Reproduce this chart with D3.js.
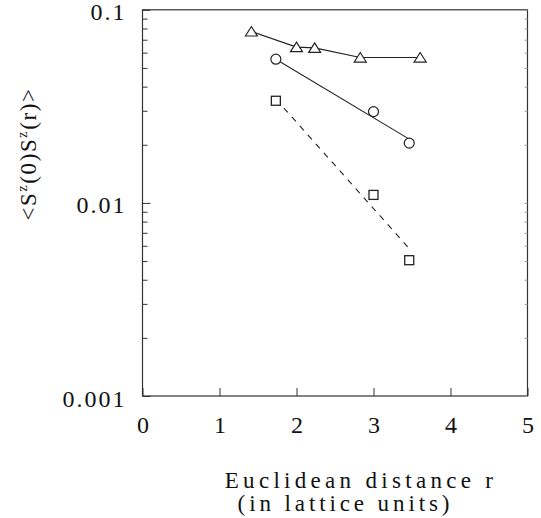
<!DOCTYPE html>
<html>
<head>
<meta charset="utf-8">
<script src="https://cdn.jsdelivr.net/npm/d3@7"></script>
<style>
  body { margin: 0; background: #fff; }
</style>
</head>
<body>
<script>
// triangles (connected), circles and squares (with fitted lines)
const rTri = [1.414, 2.0, 2.236, 2.828, 3.606];
const valTri = [0.0772, 0.0641, 0.0635, 0.0566, 0.0566];

const rCirc = [1.732, 3.0, 3.464];
const valCirc = [0.0555, 0.0297, 0.0204];
const fitCircR = [1.732, 3.464];
const fitCircVal = [0.0555, 0.0214];

const rSq = [1.732, 3.0, 3.464];
const valSq = [0.0338, 0.011, 0.00505];
const fitSqR = [1.732, 3.464];
const fitSqVal = [0.0345, 0.0058];

const xTicks = [0, 1, 2, 3, 4, 5];
const yMajor = [0.1, 0.01, 0.001];
const yMajorLabels = ["0.1", "0.01", "0.001"];

const FONT = "Liberation Serif";

const width = 541;
const height = 518;
const plot = { left: 142.5, right: 527.5, top: 9.8, bottom: 396 };

const svg = d3
  .select("body")
  .append("svg")
  .attr("width", width)
  .attr("height", height);

const x = d3.scaleLinear().domain([0, 5]).range([plot.left, plot.right]);
const y = d3.scaleLog().domain([0.001, 0.1]).range([plot.bottom, plot.top]);

// minor log ticks 2..9 in each decade
const yMinor = [];
[0.001, 0.01].forEach((d) => {
  for (let k = 2; k <= 9; k++) yMinor.push(d * k);
});

// frame
svg
  .append("rect")
  .attr("x", plot.left)
  .attr("y", plot.top)
  .attr("width", plot.right - plot.left)
  .attr("height", plot.bottom - plot.top)
  .attr("fill", "none")
  .attr("stroke", "#333")
  .attr("stroke-width", 1.2);

// bottom axis, ticks pointing inward
const xAxis = svg
  .append("g")
  .attr("transform", `translate(0,${plot.bottom})`)
  .call(
    d3
      .axisBottom(x)
      .tickValues(xTicks)
      .tickFormat(d3.format("d"))
      .tickSizeInner(-8)
      .tickSizeOuter(0)
      .tickPadding(20)
  );
xAxis.select(".domain").remove();
xAxis
  .selectAll("text")
  .attr("font-family", FONT)
  .attr("font-size", 24)
  .attr("fill", "#111");
xAxis.selectAll("line").attr("stroke", "#333");

// left axis, major ticks
const yAxis = svg
  .append("g")
  .attr("transform", `translate(${plot.left},0)`)
  .call(
    d3
      .axisLeft(y)
      .tickValues(yMajor)
      .tickFormat((d, i) => yMajorLabels[i])
      .tickSizeInner(-8)
      .tickSizeOuter(0)
      .tickPadding(16)
  );
yAxis.select(".domain").remove();
yAxis
  .selectAll("text")
  .attr("font-family", FONT)
  .attr("font-size", 24)
  .attr("fill", "#111")
  .style("letter-spacing", "2px")
  .attr("dy", "0.42em");
yAxis.selectAll("line").attr("stroke", "#333");

// left axis, minor ticks
const yAxisMinor = svg
  .append("g")
  .attr("transform", `translate(${plot.left},0)`)
  .call(
    d3
      .axisLeft(y)
      .tickValues(yMinor)
      .tickFormat("")
      .tickSizeInner(-5)
      .tickSizeOuter(0)
  );
yAxisMinor.select(".domain").remove();
yAxisMinor.selectAll("line").attr("stroke", "#333");

// faint ticks on the right edge
const yAxisRight = svg
  .append("g")
  .attr("transform", `translate(${plot.right},0)`)
  .call(
    d3
      .axisRight(y)
      .tickValues(yMinor.concat(yMajor))
      .tickFormat("")
      .tickSizeInner(-3)
      .tickSizeOuter(0)
  );
yAxisRight.select(".domain").remove();
yAxisRight.selectAll("line").attr("stroke", "#999");

const line = d3
  .line()
  .x((d) => x(d[0]))
  .y((d) => y(d[1]));

const triPts = d3.zip(rTri, valTri);
const circPts = d3.zip(rCirc, valCirc);
const sqPts = d3.zip(rSq, valSq);

svg
  .append("path")
  .attr("d", line(triPts))
  .attr("fill", "none")
  .attr("stroke", "#222")
  .attr("stroke-width", 1.1);

svg
  .append("path")
  .attr("d", line(d3.zip(fitCircR, fitCircVal)))
  .attr("fill", "none")
  .attr("stroke", "#222")
  .attr("stroke-width", 1.1);

svg
  .append("path")
  .attr("d", line(d3.zip(fitSqR, fitSqVal)))
  .attr("fill", "none")
  .attr("stroke", "#222")
  .attr("stroke-width", 1.1)
  .attr("stroke-dasharray", "6,6");

// markers
svg
  .append("g")
  .selectAll("path")
  .data(triPts)
  .join("path")
  .attr("transform", (d) => `translate(${x(d[0])},${y(d[1])})`)
  .attr("d", "M-6,4.5L0,-5L6,4.5Z")
  .attr("fill", "#fff")
  .attr("stroke", "#222")
  .attr("stroke-width", 1.2);

svg
  .append("g")
  .selectAll("circle")
  .data(circPts)
  .join("circle")
  .attr("cx", (d) => x(d[0]))
  .attr("cy", (d) => y(d[1]))
  .attr("r", 5)
  .attr("fill", "#fff")
  .attr("stroke", "#222")
  .attr("stroke-width", 1.2);

svg
  .append("g")
  .selectAll("rect")
  .data(sqPts)
  .join("rect")
  .attr("x", (d) => x(d[0]) - 4.5)
  .attr("y", (d) => y(d[1]) - 4.5)
  .attr("width", 9)
  .attr("height", 9)
  .attr("fill", "#fff")
  .attr("stroke", "#222")
  .attr("stroke-width", 1.3);

// x axis label
svg
  .append("text")
  .attr("x", 361)
  .attr("y", 488)
  .attr("text-anchor", "middle")
  .attr("font-family", FONT)
  .attr("font-size", 23)
  .attr("fill", "#111")
  .style("letter-spacing", "4.3px")
  .text("Euclidean distance r");

svg
  .append("text")
  .attr("x", 345.5)
  .attr("y", 511)
  .attr("text-anchor", "middle")
  .attr("font-family", FONT)
  .attr("font-size", 23)
  .attr("fill", "#111")
  .style("letter-spacing", "3.9px")
  .text("(in lattice units)");

// y axis label
const yLabel = svg
  .append("text")
  .attr("transform", "translate(36,154) rotate(-90)")
  .attr("text-anchor", "middle")
  .attr("font-family", FONT)
  .attr("font-size", 23)
  .attr("fill", "#111")
  .style("letter-spacing", "1.6px");

yLabel.append("tspan").text("<S");
yLabel.append("tspan").attr("dy", -9).attr("font-size", 14).text("z");
yLabel.append("tspan").attr("dy", 9).text("(0)S");
yLabel.append("tspan").attr("dy", -9).attr("font-size", 14).text("z");
yLabel.append("tspan").attr("dy", 9).text("(r)>");
</script>
</body>
</html>
